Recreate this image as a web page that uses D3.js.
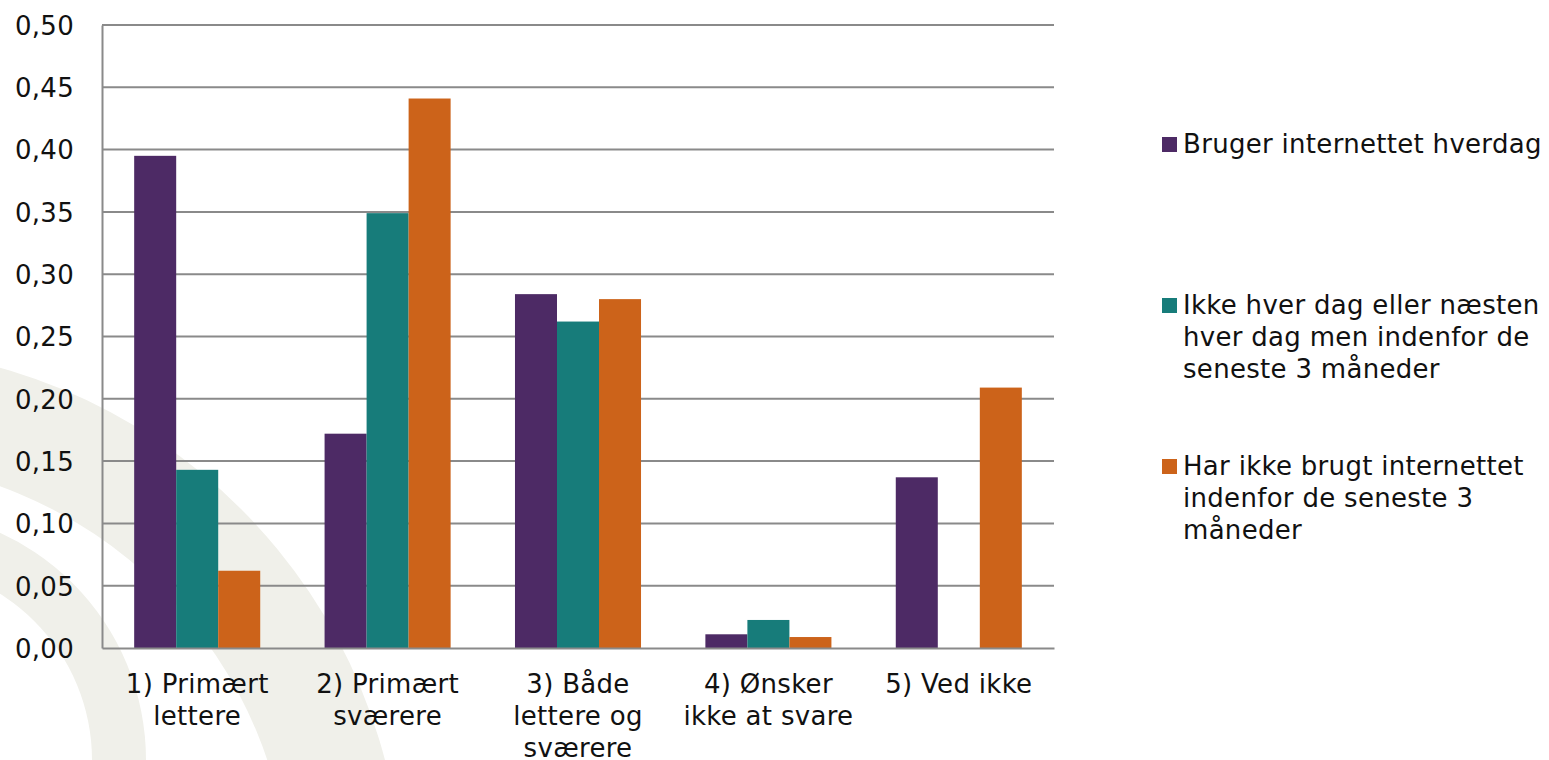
<!DOCTYPE html>
<html>
<head>
<meta charset="utf-8">
<script src="https://cdn.jsdelivr.net/npm/d3@7"></script>
<style>
  body { margin: 0; background: #fff; }
  svg text { font-family: "DejaVu Sans", Verdana, sans-serif; font-size: 26px; letter-spacing: 0.3px; fill: #111; }
</style>
</head>
<body>
<div id="chart"></div>
<script>
// data
const categories = [
  "1) Primært lettere",
  "2) Primært sværere",
  "3) Både lettere og sværere",
  "4) Ønsker ikke at svare",
  "5) Ved ikke"
];
const seriesNames = [
  "Bruger internettet hverdag",
  "Ikke hver dag eller næsten hver dag men indenfor de seneste 3 måneder",
  "Har ikke brugt internettet indenfor de seneste 3 måneder"
];
const dailyValues   = [0.395, 0.172, 0.284, 0.011, 0.137];
const recentValues  = [0.143, 0.349, 0.262, 0.0225, 0];
const notUsedValues = [0.062, 0.441, 0.280, 0.0088, 0.209];
const yTicks = [0, 0.05, 0.10, 0.15, 0.20, 0.25, 0.30, 0.35, 0.40, 0.45, 0.50];

const colors = ["#4d2a65", "#177c7a", "#cc631a"];

const W = 1549, H = 760;
const margin = { top: 25, right: 495, bottom: 112, left: 102 };
const width = W - margin.left - margin.right,
      height = H - margin.top - margin.bottom;

const svg = d3.select("#chart")
  .append("svg")
  .attr("width", W)
  .attr("height", H);

// faint background swooshes
const arc = d3.arc();
svg.append("path")
  .attr("transform", "translate(-150,900)")
  .attr("d", arc({ innerRadius: 440, outerRadius: 553, startAngle: 0, endAngle: Math.PI }))
  .attr("fill", "#f0f0ea");
svg.append("path")
  .attr("transform", "translate(-104,760)")
  .attr("d", arc({ innerRadius: 196, outerRadius: 250, startAngle: 0, endAngle: Math.PI }))
  .attr("fill", "#f0f0ea");

const g = svg.append("g")
  .attr("transform", `translate(${margin.left},${margin.top})`);

// rows for grouped bars
const series = [dailyValues, recentValues, notUsedValues];
const rows = categories.map((c, i) => ({
  cat: c,
  vals: series.map((s, j) => ({ key: j, value: s[i] }))
}));

const x0 = d3.scaleBand()
  .domain(categories)
  .range([0, width])
  .paddingInner(0.338)
  .paddingOuter(0.169);

const x1 = d3.scaleBand()
  .domain([0, 1, 2])
  .range([0, x0.bandwidth()]);

const y = d3.scaleLinear()
  .domain([0, 0.5])
  .range([height, 0]);

const fmt = v => d3.format(".2f")(v).replace(".", ",");

// grid lines
g.append("g")
  .selectAll("line")
  .data(yTicks.slice(1))
  .enter()
  .append("line")
  .attr("x1", 0)
  .attr("x2", width)
  .attr("y1", d => y(d))
  .attr("y2", d => y(d))
  .attr("stroke", "#8a8a8a")
  .attr("stroke-width", 2);

// y axis
const yAxis = g.append("g")
  .call(d3.axisLeft(y).tickValues(yTicks).tickFormat(fmt).tickSize(0).tickPadding(28));
yAxis.select(".domain").attr("stroke", "#8a8a8a").attr("stroke-width", 2);
yAxis.selectAll("text")
  .attr("font-family", null)
  .attr("font-size", null)
  .attr("dy", "0.36em");

// bars
g.append("g")
  .selectAll("g")
  .data(rows)
  .enter()
  .append("g")
  .attr("transform", d => `translate(${x0(d.cat)},0)`)
  .selectAll("rect")
  .data(d => d.vals)
  .enter()
  .append("rect")
  .attr("x", d => x1(d.key))
  .attr("y", d => y(d.value))
  .attr("width", x1.bandwidth())
  .attr("height", d => height - y(d.value))
  .attr("fill", d => colors[d.key]);

// x axis
const xAxis = g.append("g")
  .attr("transform", `translate(0,${height})`)
  .call(d3.axisBottom(x0).tickSize(0).tickPadding(0));
xAxis.select(".domain").attr("stroke", "#8a8a8a").attr("stroke-width", 2);
xAxis.selectAll("text")
  .attr("font-family", null)
  .attr("font-size", null)
  .attr("y", 45)
  .attr("dy", 0)
  .call(wrap, 184, 32);

function wrap(sel, maxW, lineH) {
  sel.each(function() {
    const text = d3.select(this);
    const words = text.text().split(/\s+/);
    const yy = text.attr("y");
    text.text(null);
    let line = [];
    let n = 0;
    let tspan = text.append("tspan").attr("x", 0).attr("y", yy);
    words.forEach(w => {
      line.push(w);
      tspan.text(line.join(" "));
      if (tspan.node().getComputedTextLength() > maxW && line.length > 1) {
        line.pop();
        tspan.text(line.join(" "));
        line = [w];
        n++;
        tspan = text.append("tspan").attr("x", 0).attr("y", +yy + n * lineH).text(w);
      }
    });
  });
}

// legend
const legend = svg.append("g")
  .attr("transform", "translate(1162,153)");

const item = legend.selectAll("g")
  .data(seriesNames)
  .enter()
  .append("g")
  .attr("transform", (d, i) => `translate(0,${i * 161})`);

item.append("rect")
  .attr("x", 0)
  .attr("y", -16)
  .attr("width", 15)
  .attr("height", 15)
  .attr("fill", (d, i) => colors[i]);

item.append("text")
  .attr("x", 21)
  .attr("y", 0)
  .text(d => d)
  .each(function() {
    const text = d3.select(this);
    const words = text.text().split(/\s+/);
    text.text(null);
    let line = [], n = 0;
    let tspan = text.append("tspan").attr("x", 21).attr("y", 0);
    words.forEach(w => {
      line.push(w);
      tspan.text(line.join(" "));
      if (tspan.node().getComputedTextLength() > 366 && line.length > 1) {
        line.pop();
        tspan.text(line.join(" "));
        line = [w];
        n++;
        tspan = text.append("tspan").attr("x", 21).attr("y", n * 32).text(w);
      }
    });
  });
</script>
</body>
</html>
